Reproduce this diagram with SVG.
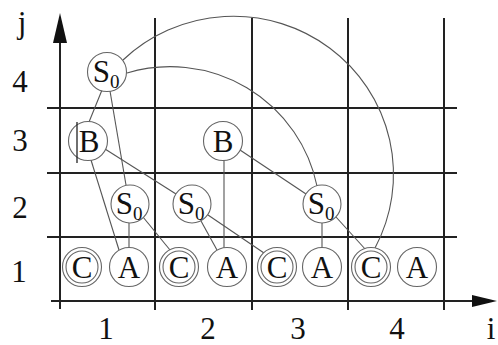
<svg xmlns="http://www.w3.org/2000/svg" width="498" height="345" viewBox="0 0 498 345">
<style>
.grid{stroke:#222;stroke-width:2;fill:none}
.conn{stroke:#555;stroke-width:1.1;fill:none}
.nd circle{fill:#fff;stroke:#666;stroke-width:1.1}
.t{font-family:"Liberation Serif","Times New Roman",serif;font-size:31px;fill:#111;text-anchor:middle}
.ax{font-family:"Liberation Serif","Times New Roman",serif;font-size:31px;fill:#111;text-anchor:middle}
.sub{font-size:19px}
</style>
<rect width="498" height="345" fill="#fff"/>
<g id="grid">
<line class="grid" x1="60" y1="40" x2="60" y2="309"/>
<polygon points="60,13 53,43 67,43" fill="#111"/>
<line class="grid" x1="51" y1="301" x2="476" y2="301"/>
<polygon points="497,301 472,295 472,307" fill="#111"/>
<line class="grid" x1="155" y1="18" x2="155" y2="310"/>
<line class="grid" x1="252" y1="18" x2="252" y2="310"/>
<line class="grid" x1="348" y1="18" x2="348" y2="310"/>
<line class="grid" x1="444" y1="18" x2="444" y2="310"/>
<line class="grid" x1="47" y1="108" x2="457" y2="108"/>
<line class="grid" x1="47" y1="173" x2="457" y2="173"/>
<line class="grid" x1="47" y1="237" x2="457" y2="237"/>
</g>
<g id="axis-labels">
<text class="ax" x="22" y="33">j</text>
<text class="ax" x="20" y="92">4</text>
<text class="ax" x="20" y="151">3</text>
<text class="ax" x="20" y="218">2</text>
<text class="ax" x="19" y="282">1</text>
<text class="ax" x="106" y="339">1</text>
<text class="ax" x="208" y="339">2</text>
<text class="ax" x="298" y="339">3</text>
<text class="ax" x="397" y="339">4</text>
<text class="ax" x="491" y="339">i</text>
</g>
<g id="connectors">
<line class="conn" x1="102" y1="90" x2="89" y2="122"/>
<line class="conn" x1="110" y1="91" x2="126" y2="185"/>
<line class="conn" x1="91" y1="160" x2="119" y2="250"/>
<line class="conn" x1="105" y1="149" x2="176" y2="194"/>
<line class="conn" x1="224" y1="160" x2="224" y2="248"/>
<line class="conn" x1="240" y1="150" x2="306" y2="194"/>
<line class="conn" x1="129" y1="223" x2="129" y2="248"/>
<line class="conn" x1="143" y1="217" x2="170" y2="250"/>
<line class="conn" x1="201" y1="221" x2="217" y2="250"/>
<line class="conn" x1="208" y1="215" x2="264" y2="253"/>
<line class="conn" x1="322" y1="223" x2="322" y2="248"/>
<line class="conn" x1="336" y1="217" x2="366" y2="250"/>
<path class="conn" d="M123,60 A160,158 0 0 1 375,248"/>
<path class="conn" d="M127,73 A150,150 0 0 1 317,186"/>
</g>
<g id="S0_top" class="nd"><circle cx="107" cy="72" r="19.5"/><text class="t" x="106" y="82">S<tspan class="sub" dy="6">0</tspan></text></g>
<g id="B_1" class="nd"><circle cx="88" cy="141" r="19.5"/><text class="t" x="89" y="152">B</text><line x1="77" y1="122" x2="77" y2="163" stroke="#222" stroke-width="1.3"/></g>
<g id="B_2" class="nd"><circle cx="223" cy="141" r="19.5"/><text class="t" x="223" y="152">B</text></g>
<g id="S0_a" class="nd"><circle cx="130" cy="204" r="19"/><text class="t" x="129" y="214">S<tspan class="sub" dy="6">0</tspan></text></g>
<g id="S0_b" class="nd"><circle cx="192" cy="204" r="19"/><text class="t" x="191" y="214">S<tspan class="sub" dy="6">0</tspan></text></g>
<g id="S0_c" class="nd"><circle cx="322" cy="204" r="19"/><text class="t" x="321" y="214">S<tspan class="sub" dy="6">0</tspan></text></g>
<g id="C_1" class="nd"><circle cx="82" cy="267" r="19.5"/><circle cx="82" cy="267" r="16"/><text class="t" x="82" y="278">C</text></g>
<g id="A_1" class="nd"><circle cx="129" cy="267" r="19.5"/><text class="t" x="129" y="278">A</text></g>
<g id="C_2" class="nd"><circle cx="179" cy="267" r="19.5"/><circle cx="179" cy="267" r="16"/><text class="t" x="179" y="278">C</text></g>
<g id="A_2" class="nd"><circle cx="227" cy="267" r="19.5"/><text class="t" x="227" y="278">A</text></g>
<g id="C_3" class="nd"><circle cx="277" cy="267" r="19.5"/><circle cx="277" cy="267" r="16"/><text class="t" x="277" y="278">C</text></g>
<g id="A_3" class="nd"><circle cx="322" cy="267" r="19.5"/><text class="t" x="322" y="278">A</text></g>
<g id="C_4" class="nd"><circle cx="371" cy="267" r="19.5"/><circle cx="371" cy="267" r="16"/><text class="t" x="371" y="278">C</text></g>
<g id="A_4" class="nd"><circle cx="417" cy="267" r="19.5"/><text class="t" x="417" y="278">A</text></g>
</svg>
